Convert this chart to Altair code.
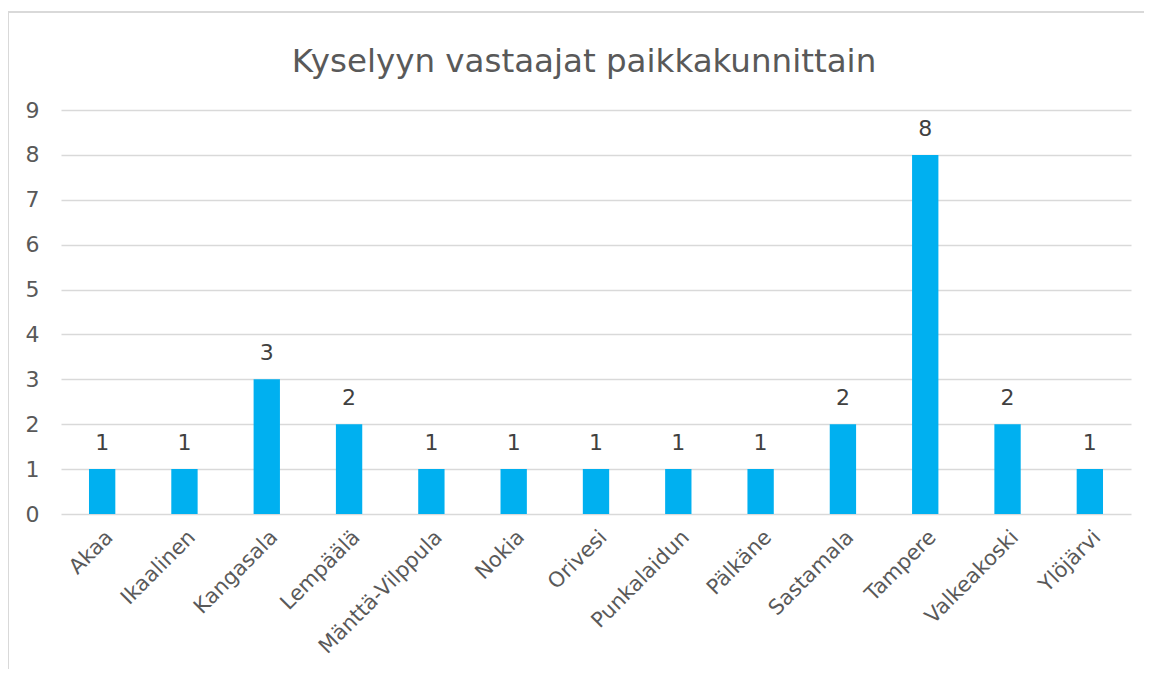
import altair as alt
import pandas as pd

places = ["Akaa", "Ikaalinen", "Kangasala", "Lempäälä", "Mänttä-Vilppula", "Nokia",
          "Orivesi", "Punkalaidun", "Pälkäne", "Sastamala", "Tampere", "Valkeakoski", "Ylöjärvi"]
counts = [1, 1, 3, 2, 1, 1, 1, 1, 1, 2, 8, 2, 1]
y_ticks = [0, 1, 2, 3, 4, 5, 6, 7, 8, 9]
title_text = "Kyselyyn vastaajat paikkakunnittain"

df = pd.DataFrame({"place": places, "count": counts})

FONT = "DejaVu Sans"
GRAY = "#595959"

x_enc = alt.X("place:N", sort=places, title=None,
              scale=alt.Scale(paddingInner=0.68, paddingOuter=0.34),
              axis=alt.Axis(labelAngle=-45, labelAlign="right", labelBaseline="top",
                            labelFontSize=21, labelColor=GRAY, labelFont=FONT,
                            labelPadding=12, ticks=False, domain=False, labelOverlap=False))
y_enc = alt.Y("count:Q", title=None,
              scale=alt.Scale(domain=[0, 9], nice=False),
              axis=alt.Axis(values=y_ticks, grid=True, gridColor="#D9D9D9", gridWidth=1.5,
                            ticks=False, domain=False, labelFontSize=22, labelColor=GRAY,
                            labelFont=FONT, labelPadding=22))

base = alt.Chart(df)
bars = base.mark_bar(color="#00B0F0").encode(x=x_enc, y=y_enc)
labels = base.mark_text(dy=-14, baseline="bottom", fontSize=22, color="#404040", font=FONT).encode(
    x=alt.X("place:N", sort=places), y="count:Q", text="count:Q")

border_top = alt.Chart(df).mark_rule(color="#D9D9D9", strokeWidth=1.5, clip=False).encode(
    x=alt.value(-53), x2=alt.value(1083), y=alt.value(-98))
border_left = alt.Chart(df).mark_rule(color="#D9D9D9", strokeWidth=1.5, clip=False).encode(
    x=alt.value(-53), y=alt.value(-98), y2=alt.value(600))

chart = alt.layer(bars, labels, border_top, border_left).properties(
    width=1070, height=404,
    padding={"left": 53, "top": 102, "right": 13, "bottom": 155},
    autosize=alt.AutoSizeParams(type="none"),
    title=alt.TitleParams(title_text, fontSize=32.5, font=FONT, color=GRAY, fontWeight="normal",
                          anchor="middle", frame="group", dx=-12, dy=133, offset=40,
                          baseline="alphabetic"),
).configure_view(stroke=None)

chart.save("out.html", embed_options={"renderer": "svg", "actions": False})
